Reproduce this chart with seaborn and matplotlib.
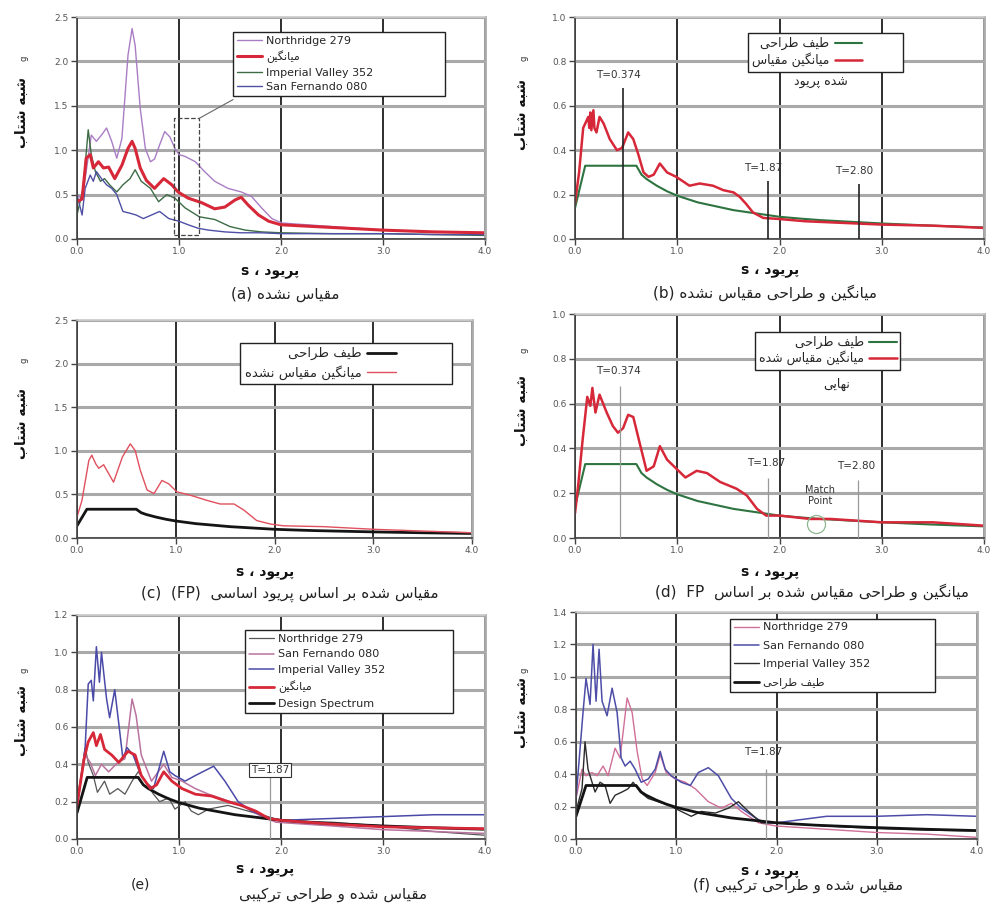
import numpy as np
import matplotlib
matplotlib.use("Agg")
import matplotlib.pyplot as plt
import seaborn as sns
from matplotlib.patches import Rectangle

# ==========================================
# Data
# ==========================================

# common design spectrum
design_T = [0, 0.1, 0.6, 0.65, 0.7, 0.8, 0.9, 1.0, 1.1, 1.2, 1.3, 1.4, 1.55, 1.7, 1.85,
            2.0, 2.2, 2.4, 2.6, 3.0, 3.5, 4.0]
design_v = [0.14, 0.33, 0.33, 0.29, 0.27, 0.24, 0.215, 0.195, 0.18, 0.165, 0.155, 0.145,
            0.13, 0.12, 0.11, 0.1, 0.092, 0.085, 0.08, 0.07, 0.06, 0.052]

# (a) unscaled
a_north_T = [0, 0.05, 0.09, 0.14, 0.19, 0.24, 0.29, 0.34, 0.39, 0.44, 0.5, 0.54, 0.57, 0.62,
             0.67, 0.72, 0.76, 0.81, 0.86, 0.91, 0.96, 1.0, 1.06, 1.16, 1.25, 1.35, 1.48,
             1.61, 1.71, 1.81, 1.91, 2.01, 2.5, 3.0, 3.5, 4.0]
a_north_v = [0.5, 0.45, 0.76, 1.17, 1.1, 1.17, 1.25, 1.1, 0.91, 1.13, 2.07, 2.37, 2.18, 1.47,
             1.02, 0.87, 0.9, 1.06, 1.21, 1.15, 1.02, 0.95, 0.93, 0.87, 0.76, 0.65, 0.57,
             0.53, 0.48, 0.35, 0.23, 0.18, 0.14, 0.1, 0.08, 0.07]
a_mean_T = [0, 0.05, 0.09, 0.13, 0.16, 0.21, 0.26, 0.31, 0.37, 0.44, 0.5, 0.54, 0.57, 0.62,
            0.68, 0.76, 0.85, 0.93, 0.99, 1.09, 1.22, 1.35, 1.45, 1.55, 1.61, 1.68, 1.78,
            1.88, 2.0, 2.5, 3.0, 3.5, 4.0]
a_mean_v = [0.42, 0.45, 0.91, 0.95, 0.8, 0.87, 0.8, 0.81, 0.68, 0.83, 1.02, 1.1, 1.02, 0.8,
            0.66, 0.57, 0.68, 0.61, 0.53, 0.46, 0.41, 0.34, 0.36, 0.44, 0.47, 0.38, 0.27,
            0.2, 0.16, 0.13, 0.1, 0.08, 0.07]
a_imp_T = [0, 0.06, 0.11, 0.14, 0.18, 0.23, 0.27, 0.32, 0.39, 0.45, 0.52, 0.57, 0.63, 0.72,
           0.8, 0.88, 0.96, 1.06, 1.2, 1.35, 1.5, 1.65, 1.81, 2.0, 2.5, 3.0, 3.5, 4.0]
a_imp_v = [0.27, 0.57, 1.23, 0.95, 0.76, 0.65, 0.68, 0.61, 0.53, 0.61, 0.68, 0.78, 0.65, 0.57,
           0.42, 0.5, 0.46, 0.35, 0.25, 0.22, 0.14, 0.1, 0.08, 0.07, 0.06, 0.06, 0.05, 0.04]
a_sf_T = [0, 0.05, 0.08, 0.13, 0.16, 0.19, 0.24, 0.29, 0.34, 0.39, 0.45, 0.52, 0.58, 0.65,
          0.73, 0.81, 0.9, 1.0, 1.09, 1.19, 1.29, 1.45, 1.6, 1.8, 2.0, 2.5, 3.0, 3.5, 4.0]
a_sf_v = [0.5, 0.27, 0.57, 0.72, 0.65, 0.76, 0.68, 0.61, 0.57, 0.5, 0.31, 0.29, 0.27, 0.23,
          0.27, 0.31, 0.23, 0.2, 0.16, 0.12, 0.1, 0.08, 0.07, 0.07, 0.06, 0.06, 0.06, 0.05, 0.05]

# (b) mean vs design, unscaled
b_mean_T = [0, 0.04, 0.08, 0.13, 0.14, 0.15, 0.16, 0.18, 0.19, 0.21, 0.24, 0.28, 0.34, 0.41,
            0.46, 0.52, 0.57, 0.62, 0.67, 0.72, 0.77, 0.83, 0.9, 0.99, 1.12, 1.22, 1.35,
            1.45, 1.55, 1.61, 1.67, 1.74, 1.84, 2.0, 2.25, 2.5, 3.0, 3.5, 4.0]
b_mean_v = [0.16, 0.3, 0.5, 0.55, 0.5, 0.57, 0.49, 0.58, 0.5, 0.48, 0.55, 0.52, 0.45, 0.4,
            0.41, 0.48, 0.45, 0.38, 0.3, 0.28, 0.29, 0.34, 0.3, 0.28, 0.24, 0.25, 0.24,
            0.22, 0.21, 0.19, 0.16, 0.12, 0.095, 0.09, 0.08, 0.075, 0.065, 0.06, 0.05]

# (c) scaled on fundamental period
c_mean_T = [0, 0.05, 0.12, 0.15, 0.19, 0.22, 0.27, 0.32, 0.37, 0.46, 0.54, 0.59, 0.64, 0.71,
            0.78, 0.86, 0.93, 1.01, 1.15, 1.32, 1.45, 1.59, 1.69, 1.82, 1.96, 2.09, 2.5,
            3.0, 3.5, 4.0]
c_mean_v = [0.24, 0.43, 0.89, 0.95, 0.85, 0.8, 0.84, 0.74, 0.64, 0.93, 1.08, 1.0, 0.78, 0.55,
            0.51, 0.66, 0.62, 0.53, 0.49, 0.43, 0.39, 0.39, 0.32, 0.2, 0.16, 0.14, 0.13,
            0.1, 0.08, 0.06]

# (d) mean vs design, scaled on FP
d_mean_T = [0, 0.03, 0.075, 0.12, 0.15, 0.17, 0.2, 0.24, 0.31, 0.37, 0.42, 0.47, 0.52, 0.57,
            0.64, 0.7, 0.77, 0.83, 0.9, 0.99, 1.08, 1.19, 1.29, 1.42, 1.58, 1.68, 1.78,
            1.87, 2.0, 2.3, 2.5, 3.0, 3.5, 4.0]
d_mean_v = [0.11, 0.23, 0.44, 0.63, 0.59, 0.67, 0.56, 0.64, 0.56, 0.5, 0.47, 0.49, 0.55, 0.54,
            0.41, 0.3, 0.32, 0.41, 0.35, 0.31, 0.27, 0.3, 0.29, 0.25, 0.22, 0.19, 0.13,
            0.1, 0.1, 0.085, 0.085, 0.07, 0.07, 0.055]

# (e) scaled, combined design
e_north_T = [0, 0.08, 0.11, 0.16, 0.2, 0.27, 0.32, 0.4, 0.47, 0.54, 0.6, 0.67, 0.75, 0.81,
             0.9, 0.96, 1.06, 1.12, 1.19, 1.29, 1.48, 1.61, 2.0, 2.5, 3.0, 3.5, 4.0]
e_north_v = [0.2, 0.49, 0.41, 0.34, 0.25, 0.31, 0.24, 0.27, 0.24, 0.31, 0.36, 0.31, 0.24, 0.2,
             0.22, 0.16, 0.2, 0.15, 0.13, 0.16, 0.18, 0.16, 0.1, 0.09, 0.07, 0.04, 0.02]
e_sf_T = [0, 0.08, 0.13, 0.18, 0.24, 0.31, 0.4, 0.47, 0.54, 0.58, 0.63, 0.73, 0.85, 0.93,
          1.03, 1.16, 1.29, 1.45, 1.61, 1.78, 1.95, 2.5, 3.0, 3.5, 4.0]
e_sf_v = [0.2, 0.45, 0.41, 0.34, 0.4, 0.36, 0.41, 0.43, 0.75, 0.66, 0.45, 0.31, 0.4, 0.33,
          0.31, 0.27, 0.24, 0.21, 0.18, 0.13, 0.09, 0.07, 0.05, 0.04, 0.03]
e_imp_T = [0, 0.08, 0.11, 0.14, 0.16, 0.19, 0.22, 0.24, 0.29, 0.32, 0.37, 0.42, 0.45, 0.49,
           0.55, 0.62, 0.68, 0.75, 0.85, 0.91, 0.96, 1.06, 1.16, 1.34, 1.45, 1.58, 1.71,
           1.88, 2.0, 2.5, 3.0, 3.5, 4.0]
e_imp_v = [0.16, 0.49, 0.83, 0.85, 0.74, 1.03, 0.84, 1.0, 0.75, 0.65, 0.8, 0.57, 0.43, 0.49,
           0.45, 0.35, 0.3, 0.27, 0.47, 0.36, 0.34, 0.31, 0.34, 0.39, 0.31, 0.2, 0.15,
           0.11, 0.1, 0.11, 0.12, 0.13, 0.13]
e_mean_T = [0, 0.07, 0.11, 0.16, 0.19, 0.23, 0.27, 0.34, 0.41, 0.5, 0.57, 0.63, 0.72, 0.78,
            0.85, 0.93, 1.03, 1.16, 1.32, 1.48, 1.61, 1.75, 1.88, 2.0, 2.5, 3.0, 3.5, 4.0]
e_mean_v = [0.18, 0.43, 0.52, 0.57, 0.5, 0.56, 0.48, 0.45, 0.41, 0.47, 0.45, 0.34, 0.27, 0.29,
            0.36, 0.31, 0.27, 0.24, 0.23, 0.2, 0.18, 0.15, 0.11, 0.1, 0.08, 0.065, 0.06, 0.055]

# (f) scaled, combined design
f_north_T = [0, 0.06, 0.1, 0.16, 0.21, 0.27, 0.32, 0.39, 0.44, 0.51, 0.56, 0.61, 0.66, 0.71,
             0.79, 0.84, 0.9, 0.99, 1.09, 1.19, 1.32, 1.45, 1.55, 1.65, 1.82, 2.0, 2.5,
             3.0, 3.5, 4.0]
f_north_v = [0.25, 0.43, 0.39, 0.41, 0.39, 0.45, 0.39, 0.56, 0.5, 0.87, 0.78, 0.54, 0.37, 0.33,
             0.41, 0.52, 0.41, 0.37, 0.35, 0.31, 0.23, 0.19, 0.22, 0.17, 0.1, 0.08, 0.06,
             0.04, 0.03, 0.01]
f_sf_T = [0, 0.07, 0.1, 0.14, 0.17, 0.2, 0.23, 0.26, 0.31, 0.36, 0.41, 0.45, 0.49, 0.54,
          0.59, 0.65, 0.72, 0.79, 0.84, 0.89, 0.95, 1.05, 1.14, 1.22, 1.32, 1.42, 1.55,
          1.65, 1.79, 1.88, 2.0, 2.5, 3.0, 3.5, 4.0]
f_sf_v = [0.25, 0.78, 0.99, 0.83, 1.2, 0.85, 1.17, 0.85, 0.76, 0.93, 0.78, 0.5, 0.45, 0.48,
          0.43, 0.35, 0.37, 0.43, 0.54, 0.43, 0.39, 0.35, 0.33, 0.41, 0.44, 0.39, 0.25,
          0.19, 0.13, 0.1, 0.1, 0.14, 0.14, 0.15, 0.14]
f_imp_T = [0, 0.06, 0.09, 0.12, 0.16, 0.19, 0.24, 0.29, 0.34, 0.39, 0.46, 0.52, 0.57, 0.64,
           0.72, 0.82, 0.92, 1.05, 1.15, 1.25, 1.39, 1.52, 1.62, 1.72, 1.85, 2.0, 2.5,
           3.0, 3.5, 4.0]
f_imp_v = [0.17, 0.31, 0.6, 0.43, 0.35, 0.29, 0.35, 0.33, 0.22, 0.27, 0.29, 0.31, 0.35, 0.29,
           0.25, 0.23, 0.21, 0.17, 0.14, 0.17, 0.16, 0.19, 0.23, 0.17, 0.1, 0.1, 0.08,
           0.065, 0.055, 0.05]

# marker lines (period, height) and their labels
b_marks = [(0.47, 0.68), (1.89, 0.26), (2.78, 0.25)]
d_marks = [(0.44, 0.68), (1.89, 0.27), (2.77, 0.26)]
mark_labels = ["T=0.374", "T=1.87", "T=2.80"]

x_ticks = [0, 1, 2, 3, 4]
x_tick_labels = ["0.0", "1.0", "2.0", "3.0", "4.0"]

# ==========================================
# Persian text shaping (no bidi library available)
# ==========================================

FORMS = {
    "ا": ("\uFE8D", "\uFE8E", None, None),
    "ب": ("\uFE8F", "\uFE90", "\uFE91", "\uFE92"),
    "پ": ("\uFB56", "\uFB57", "\uFB58", "\uFB59"),
    "ت": ("\uFE95", "\uFE96", "\uFE97", "\uFE98"),
    "ح": ("\uFEA1", "\uFEA2", "\uFEA3", "\uFEA4"),
    "د": ("\uFEA9", "\uFEAA", None, None),
    "ر": ("\uFEAD", "\uFEAE", None, None),
    "س": ("\uFEB1", "\uFEB2", "\uFEB3", "\uFEB4"),
    "ش": ("\uFEB5", "\uFEB6", "\uFEB7", "\uFEB8"),
    "ط": ("\uFEC1", "\uFEC2", "\uFEC3", "\uFEC4"),
    "ف": ("\uFED1", "\uFED2", "\uFED3", "\uFED4"),
    "ق": ("\uFED5", "\uFED6", "\uFED7", "\uFED8"),
    "ک": ("\uFB8E", "\uFB8F", "\uFB90", "\uFB91"),
    "گ": ("\uFB92", "\uFB93", "\uFB94", "\uFB95"),
    "م": ("\uFEE1", "\uFEE2", "\uFEE3", "\uFEE4"),
    "ن": ("\uFEE5", "\uFEE6", "\uFEE7", "\uFEE8"),
    "ه": ("\uFEE9", "\uFEEA", "\uFEEB", "\uFEEC"),
    "و": ("\uFEED", "\uFEEE", None, None),
    "ی": ("\uFBFC", "\uFBFD", "\uFBFE", "\uFBFF"),
}


def fa(s):
    out = []
    for i, ch in enumerate(s):
        if ch not in FORMS:
            out.append(ch)
            continue
        prev = s[i - 1] if i > 0 else ""
        nxt = s[i + 1] if i + 1 < len(s) else ""
        jp = prev in FORMS and FORMS[prev][2] is not None
        jn = FORMS[ch][2] is not None and nxt in FORMS
        iso, fin, ini, med = FORMS[ch]
        if jp and jn:
            out.append(med)
        elif jp:
            out.append(fin)
        elif jn:
            out.append(ini)
        else:
            out.append(iso)
    return "".join(out[::-1])


# ==========================================
# Figure
# ==========================================

sns.set_theme(style="white")
plt.rcParams["font.family"] = ["DejaVu Sans"]

W, H = 999, 907
fig = plt.figure(figsize=(W / 100, H / 100), dpi=100)


def px_axes(x0, x1, y0, y1):
    return fig.add_axes([x0 / W, 1 - y1 / H, (x1 - x0) / W, (y1 - y0) / H])


def ftext(x, y, s, **kw):
    fig.text(x / W, 1 - y / H, s, **kw)


def style(ax, ymax, ystep):
    ax.set_xlim(0, 4)
    ax.set_ylim(0, ymax)
    ax.set_xticks(x_ticks)
    ax.set_xticklabels(x_tick_labels)
    yt = np.round(np.arange(0, ymax + 1e-9, ystep), 2)
    ax.set_yticks(yt)
    ax.set_yticklabels([f"{v:.1f}" for v in yt])
    ax.grid(axis="y", color="#a9a9a9", lw=2.2)
    ax.grid(axis="x", color="#1e1e1e", lw=1.3)
    ax.set_axisbelow(True)
    for side in ["left", "bottom"]:
        ax.spines[side].set_color("#444444")
        ax.spines[side].set_linewidth(1.2)
    ax.spines["top"].set_color("#cccccc")
    ax.spines["right"].set_color("#aaaaaa")
    ax.spines["right"].set_linewidth(2)
    ax.tick_params(direction="out", length=4, width=1, color="#444444",
                   labelsize=6.5, labelcolor="#555555", pad=2,
                   bottom=True, left=True)
    ax.set_xlabel("")
    ax.set_ylabel("")


def curve(ax, T, v, color, lw):
    sns.lineplot(x=T, y=v, ax=ax, color=color, linewidth=lw, sort=False, legend=False)
    return ax.lines[-1]


def legend(ax, handles, labels, x, top, w, h, first=True, fs=8, **kw):
    # box given in axes fraction: left, top, width, height
    lg = ax.legend(handles, labels, loc="upper left", bbox_to_anchor=(x, top - h, w, h),
                   mode="expand", markerfirst=first, fontsize=fs, frameon=True,
                   fancybox=False, edgecolor="#222222", framealpha=1,
                   borderaxespad=0, handlelength=2.2, handletextpad=0.4,
                   borderpad=0.35, **kw)
    lg.get_frame().set_linewidth(1.0)
    return lg


red = "#d62839"
green = "#2e7440"
black = "#141414"

axes = {
    "a": px_axes(77, 485, 17, 239),
    "b": px_axes(575, 984, 17, 239),
    "c": px_axes(77, 472, 320, 538),
    "d": px_axes(575, 984, 314, 538),
    "e": px_axes(77, 485, 615, 839),
    "f": px_axes(576, 977, 612, 839),
}

# ---- (a)
ax = axes["a"]
h1 = curve(ax, a_north_T, a_north_v, "#a97dc4", 1.0)
h3 = curve(ax, a_imp_T, a_imp_v, "#3d6b45", 1.0)
h4 = curve(ax, a_sf_T, a_sf_v, "#4f4fa6", 1.0)
h2 = curve(ax, a_mean_T, a_mean_v, red, 2.2)
style(ax, 2.5, 0.5)
ax.add_patch(Rectangle((0.95, 0.04), 0.25, 1.32, fill=False, ls="--", lw=0.9,
                       ec="#444444", zorder=3))
ax.plot([1.2, 1.53], [1.36, 1.57], color="#666666", lw=0.8, zorder=3)
legend(ax, [h1, h2, h3, h4],
       ["Northridge 279", fa("میانگین"), "Imperial Valley 352", "San Fernando 080"],
       0.383, 0.932, 0.52, 0.3, labelspacing=0.4)

# ---- (b)
ax = axes["b"]
g1 = curve(ax, design_T, design_v, green, 1.5)
g2 = curve(ax, b_mean_T, b_mean_v, red, 1.8)
style(ax, 1.0, 0.2)
for (t, hgt), lab in zip(b_marks, mark_labels):
    ax.vlines(t, 0, hgt, color="#222222", lw=1.2, zorder=3)
    ax.text(t - 0.05, hgt + 0.045, lab, fontsize=7.5, color="#333333", ha="center")
legend(ax, [g1, g2], [fa("طیف طراحی"), fa("میانگین مقیاس")],
       0.4225, 0.93, 0.38, 0.17, first=False, fs=9, labelspacing=0.2)
ax.text(2.4, 0.69, fa("شده پریود"), fontsize=9, ha="center", color="#222222")

# ---- (c)
ax = axes["c"]
k1 = curve(ax, design_T, design_v, black, 2.0)
k2 = curve(ax, c_mean_T, c_mean_v, "#e0505e", 1.0)
style(ax, 2.5, 0.5)
legend(ax, [k1, k2], [fa("طیف طراحی"), fa("میانگین مقیاس نشده")],
       0.4125, 0.896, 0.5375, 0.2, first=False, fs=9.5, labelspacing=0.35)

# ---- (d)
ax = axes["d"]
d1 = curve(ax, design_T, design_v, green, 1.5)
d2 = curve(ax, d_mean_T, d_mean_v, red, 1.8)
style(ax, 1.0, 0.2)
for (t, hgt), lab in zip(d_marks, mark_labels):
    ax.vlines(t, 0, hgt, color="#999999", lw=0.9, zorder=3)
    ax.text(t - 0.02, hgt + 0.05, lab, fontsize=7.5, color="#333333", ha="center")
ax.text(2.4, 0.15, "Match\nPoint", fontsize=7, ha="center", color="#333333",
        linespacing=1.2)
match_T, match_v = 2.36, 0.064
ax.plot([match_T], [match_v], marker="o", ms=13, mfc="none", mec="#8fb58f", mew=0.9)
legend(ax, [d1, d2], [fa("طیف طراحی"), fa("میانگین مقیاس شده")],
       0.44, 0.92, 0.355, 0.16, first=False, fs=9, labelspacing=0.1)
ax.text(2.56, 0.67, fa("نهایی"), fontsize=9, ha="center", color="#222222")

# ---- (e)
ax = axes["e"]
e1 = curve(ax, e_north_T, e_north_v, "#555555", 0.9)
e2 = curve(ax, e_sf_T, e_sf_v, "#b9739f", 1.1)
e3 = curve(ax, e_imp_T, e_imp_v, "#4a4aa8", 1.1)
e5 = curve(ax, design_T, design_v, black, 2.0)
e4 = curve(ax, e_mean_T, e_mean_v, red, 2.0)
style(ax, 1.2, 0.2)
ax.vlines(1.89, 0, 0.35, color="#999999", lw=0.9, zorder=3)
ax.text(1.89, 0.37, "T=1.87", fontsize=7.5, ha="center", va="center", color="#333333",
        bbox=dict(boxstyle="square,pad=0.2", fc="white", ec="#333333", lw=0.8))
legend(ax, [e1, e2, e3, e4, e5],
       ["Northridge 279", "San Fernando 080", "Imperial Valley 352", fa("میانگین"),
        "Design Spectrum"],
       0.4125, 0.933, 0.51, 0.38, labelspacing=0.5)

# ---- (f)
ax = axes["f"]
f1 = curve(ax, f_north_T, f_north_v, "#d06f98", 1.0)
f2 = curve(ax, f_sf_T, f_sf_v, "#4d4da8", 1.1)
f3 = curve(ax, f_imp_T, f_imp_v, "#2b2b2b", 1.0)
f4 = curve(ax, design_T, design_v, black, 2.0)
style(ax, 1.4, 0.2)
ax.vlines(1.9, 0, 0.43, color="#999999", lw=0.9, zorder=3)
ax.text(1.87, 0.52, "T=1.87", fontsize=7.5, ha="center", color="#333333")
legend(ax, [f1, f2, f3, f4],
       ["Northridge 279", "San Fernando 080", "Imperial Valley 352", fa("طیف طراحی")],
       0.385, 0.971, 0.51, 0.34, labelspacing=0.75)

# ==========================================
# Axis labels and captions
# ==========================================

ylab = fa("شبه شتاب")
xlab = "s ، " + fa("پریود")
# (x, centre of persian label, g position)
ylab_pos = [(22, 112, 58), (522, 115, 58), (22, 424, 360),
            (522, 410, 350), (22, 721, 670), (522, 713, 670)]
for x, yc, yg in ylab_pos:
    ftext(x, yc, ylab, rotation=90, fontsize=10, fontweight="bold",
          ha="center", va="center", color="#111111")
    ftext(x + 2, yg, "g", rotation=90, fontsize=6, ha="center", va="center",
          color="#333333")

xlab_pos = [(270, 271), (770, 270), (265, 572), (770, 572), (265, 869), (770, 871)]
for x, y in xlab_pos:
    ftext(x, y, xlab, fontsize=10, fontweight="bold", ha="center", va="center",
          color="#111111")

captions = [
    (285, 294, "(a) " + fa("مقیاس نشده")),
    (765, 293, "(b) " + fa("میانگین و طراحی مقیاس نشده")),
    (290, 594, "(c)  (FP)  " + fa("مقیاس شده بر اساس پریود اساسی")),
    (812, 592, "(d)  FP  " + fa("میانگین و طراحی مقیاس شده بر اساس")),
    (333, 895, fa("مقیاس شده و طراحی ترکیبی")),
    (798, 885, "(f) " + fa("مقیاس شده و طراحی ترکیبی")),
]
for x, y, s in captions:
    ftext(x, y, s, fontsize=11, ha="center", va="center", color="#222222")
ftext(140, 884, "(e)", fontsize=10, ha="center", va="center", color="#222222")

fig.savefig("out.png", dpi=100)
